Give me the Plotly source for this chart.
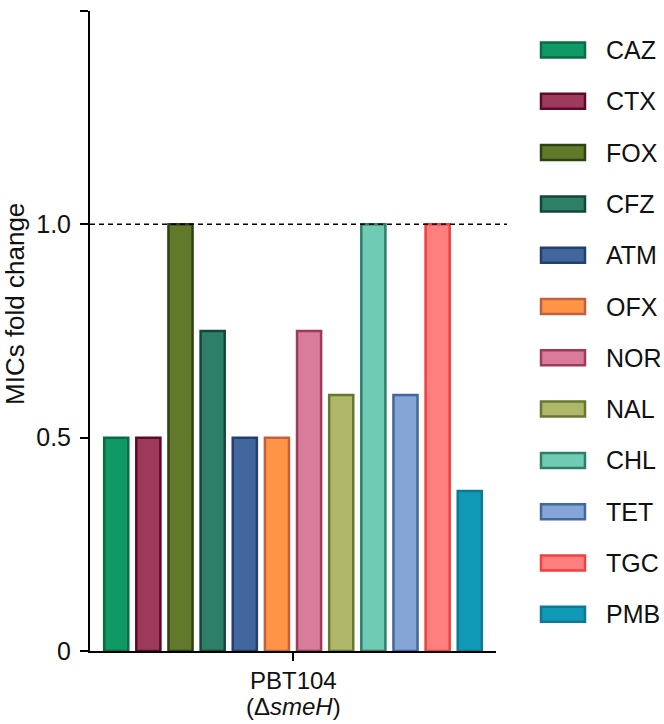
import plotly.graph_objects as go

drugs = ["CAZ", "CTX", "FOX", "CFZ", "ATM", "OFX", "NOR", "NAL", "CHL", "TET", "TGC", "PMB"]
fold_change = [0.5, 0.5, 1.0, 0.75, 0.5, 0.5, 0.75, 0.6, 1.0, 0.6, 1.0, 0.375]
fill_colors = ["#0f9a65", "#9e3a5c", "#61792b", "#2e7f68", "#42679e", "#ff9447",
               "#d97b9b", "#afb86a", "#6fcbb4", "#84a5d6", "#ff7f7f", "#1099b5"]
line_colors = ["#0b6b45", "#5c0a2a", "#2d4312", "#14473a", "#223f6d", "#c06040",
               "#9e3a5c", "#66772f", "#2e7f68", "#42679e", "#f04040", "#0c7a96"]
strain_lines = ["PBT104", "(Δ<i>smeH</i>)"]
strain = " ".join(strain_lines)
y_ticks = [0, 0.5, 1.0, 1.5]
y_tick_text = ["0", "0.5", "1.0", "1.5"]

FONT = "Liberation Sans, Arial, sans-serif"

fig = go.Figure()
for d, v, fc, lc in zip(drugs, fold_change, fill_colors, line_colors):
    fig.add_trace(go.Bar(
        x=[strain], y=[v], name=d,
        marker=dict(color=fc, line=dict(color=lc, width=2.5)),
        showlegend=False,
    ))

# reference line at 1.0
fig.add_shape(type="line", xref="paper", yref="y", x0=0, x1=1.027, y0=1.0, y1=1.0,
              line=dict(color="black", width=1.5, dash="5px,4px"))

W, H = 664, 724
L, R, T, B = 90, 168, 11, 73
pw, ph = W - L - R, H - T - B
def px_to_paper_x(px):
    return (px - L) / pw
def px_to_paper_y(py):
    return (H - B - py) / ph

# category label (two tight lines)
for txt, cy in zip(strain_lines, [680, 706]):
    fig.add_annotation(xref="x", yref="paper", x=strain, y=px_to_paper_y(cy),
                       text=txt, showarrow=False, xanchor="center", yanchor="middle",
                       font=dict(family=FONT, size=24, color="#111"))

# y-axis title
fig.add_annotation(xref="paper", yref="paper", x=px_to_paper_x(15), y=px_to_paper_y(304),
                   text="MICs fold change", textangle=-90, showarrow=False,
                   xanchor="center", yanchor="middle",
                   font=dict(family=FONT, size=26, color="#111"))

# custom legend with wide swatches
for i, (d, fc, lc) in enumerate(zip(drugs, fill_colors, line_colors)):
    cy = 50 + i * 51.3
    fig.add_shape(type="rect", xref="paper", yref="paper",
                  x0=px_to_paper_x(541), x1=px_to_paper_x(585),
                  y0=px_to_paper_y(cy + 7.5), y1=px_to_paper_y(cy - 7.5),
                  fillcolor=fc, line=dict(color=lc, width=2.5))
    fig.add_annotation(xref="paper", yref="paper",
                       x=px_to_paper_x(604), y=px_to_paper_y(cy),
                       text=d, showarrow=False, xanchor="left", yanchor="middle",
                       font=dict(family=FONT, size=25, color="#111"))

fig.update_layout(
    width=W, height=H,
    margin=dict(l=L, r=R, t=T, b=B),
    paper_bgcolor="white", plot_bgcolor="white",
    barmode="group", bargap=0.05, bargroupgap=0.25,
    font=dict(family=FONT, size=25, color="#111"),
    xaxis=dict(showline=True, linecolor="black", linewidth=2, automargin=False,
               ticks="outside", ticklen=8, tickwidth=2, tickcolor="black",
               showticklabels=False, showgrid=False, zeroline=False),
    yaxis=dict(range=[0, 1.5], tickvals=y_ticks, ticktext=y_tick_text,
               showline=True, linecolor="black", linewidth=2, automargin=False,
               ticks="outside", ticklen=8, tickwidth=2, tickcolor="black",
               ticklabelstandoff=4,
               tickfont=dict(size=25), showgrid=False, zeroline=False),
)

fig.write_html("out.html", config={"displayModeBar": False},
               post_script="document.body.style.margin='0';")
